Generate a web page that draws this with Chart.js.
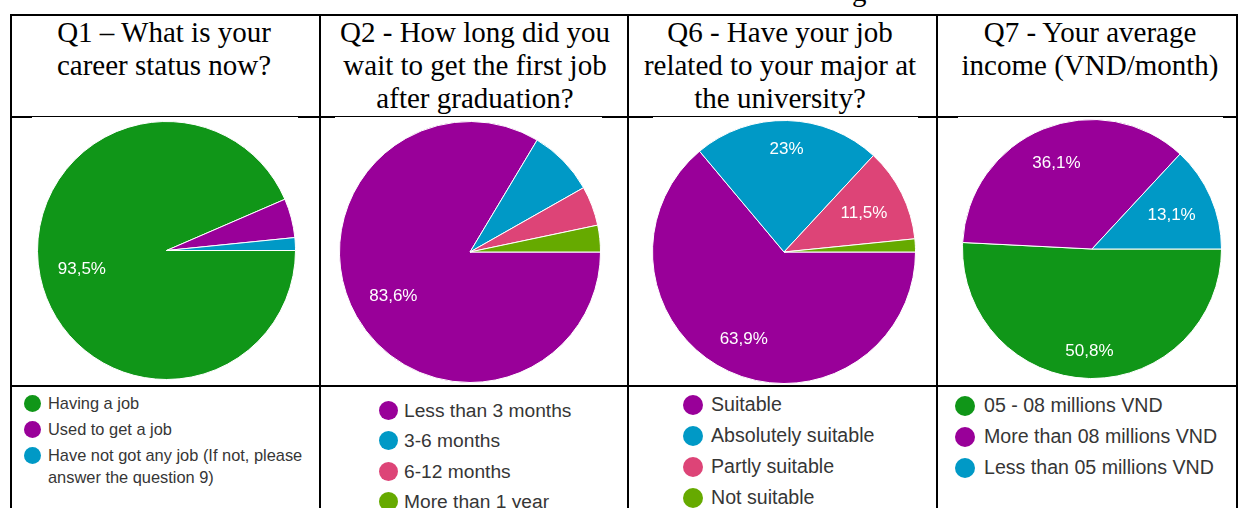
<!DOCTYPE html>
<html>
<head>
<meta charset="utf-8">
<title>Survey results</title>
<script src="https://cdn.jsdelivr.net/npm/chart.js@4.4.1/dist/chart.umd.min.js"></script>
<style>
  html, body { margin: 0; padding: 0; background: #fff; }
  #page { position: relative; width: 1239px; height: 508px; overflow: hidden; background: #fff; }
  .rule { position: absolute; background: #000; }
  .plate { position: absolute; background: #fff; }
  .t { position: absolute; white-space: nowrap; }
  .hd { font-family: "Liberation Serif", "Times New Roman", serif; font-size: 29px; line-height: 29px; color: #000; }
  .lg { font-family: "Liberation Sans", Arial, sans-serif; color: #363636; }
  .dot { position: absolute; border-radius: 50%; }
  canvas { position: absolute; }
</style>
</head>
<body>
<div id="page"></div>
<script>
// ---- survey data ----
const q1Title = ["Q1 \u2013 What is your", "career status now?"];
const q1Labels = ["Having a job", "Used to get a job", "Have not got any job (If not, please answer the question 9)"];
const q1Values = [93.5, 4.9, 1.6];

const q2Title = ["Q2 - How long did you", "wait to get the first job", "after graduation?"];
const q2Labels = ["Less than 3 months", "3-6 months", "6-12 months", "More than 1 year"];
const q2Values = [83.6, 8.2, 4.9, 3.3];

const q6Title = ["Q6 - Have your job", "related to your major at", "the university?"];
const q6Labels = ["Suitable", "Absolutely suitable", "Partly suitable", "Not suitable"];
const q6Values = [63.9, 23, 11.5, 1.6];

const q7Title = ["Q7 - Your average", "income (VND/month)"];
const q7Labels = ["05 - 08 millions VND", "More than 08 millions VND", "Less than 05 millions VND"];
const q7Values = [50.8, 36.1, 13.1];

// slice colours
const GREEN = "#109618", PURPLE = "#990099", BLUE = "#0099c6", PINK = "#dd4477", LIME = "#66aa00";
const q1Colors = [GREEN, PURPLE, BLUE];
const q2Colors = [PURPLE, BLUE, PINK, LIME];
const q6Colors = [PURPLE, BLUE, PINK, LIME];
const q7Colors = [GREEN, PURPLE, BLUE];

const page = document.getElementById("page");

function el(cls, css, text) {
  const d = document.createElement("div");
  d.className = cls;
  Object.assign(d.style, css);
  if (text !== undefined) d.textContent = text;
  page.appendChild(d);
  return d;
}

// ---- table grid ----
const colX = [10, 319, 627, 936, 1236];
[14, 116, 385].forEach(y => el("rule", { left: "10px", top: y + "px", width: "1228px", height: "2px" }));
colX.forEach(x => el("rule", { left: x + "px", top: "14px", width: "2px", height: "500px" }));

// white chart plates sitting on the lower edge of the header rule
[[32, 298], [335, 602], [653, 918], [958, 1223]].forEach(([a, b]) =>
  el("plate", { left: a + "px", top: "117px", width: (b - a) + "px", height: "267px" }));

// tail of the caption line above the table
el("t hd", { left: "852px", top: (1 - 0.8375 * 29) + "px" }, "g");

// ---- header cells (serif, centred lines) ----
function header(lines, cx) {
  const base = [42, 75, 108];
  lines.forEach((s, i) => {
    el("t hd", { top: (base[i] - 0.8375 * 29) + "px", left: cx + "px", transform: "translateX(-50%)" }, s);
  });
}
header(q1Title, 164);
header(q2Title, 475);
header(q6Title, 780);
header(q7Title, 1090);

// ---- pie charts ----
const sliceLabels = {
  id: "sliceLabels",
  afterDatasetsDraw(chart) {
    const ctx = chart.ctx;
    const meta = chart.getDatasetMeta(0);
    const vals = chart.data.datasets[0].data;
    const fs = 17;
    ctx.save();
    ctx.font = fs + 'px "Liberation Sans", Arial, sans-serif';
    ctx.fillStyle = "#ffffff";
    ctx.textAlign = "center";
    ctx.textBaseline = "alphabetic";
    meta.data.forEach((arc, i) => {
      if (vals[i] < 10) return;
      const p = arc.getProps(["x", "y", "startAngle", "endAngle", "outerRadius"], true);
      const mid = (p.startAngle + p.endAngle) / 2;
      const ux = Math.cos(mid), uy = Math.sin(mid);
      const text = String(vals[i]).replace(".", ",") + "%";
      const w = ctx.measureText(text).width, h = 15;
      // push the label box outward until its far corner reaches R0
      const R0 = p.outerRadius * 0.865;
      const a = Math.sign(ux) * w / 2, b = Math.sign(uy) * h / 2;
      const B = ux * a + uy * b;
      const t = -B + Math.sqrt(B * B - (a * a + b * b - R0 * R0));
      ctx.fillText(text, p.x + ux * t, p.y + uy * t + 0.358 * fs);
    });
    ctx.restore();
  }
};

function pie(labels, values, colors, cx, cy, r) {
  const pad = 3;
  const size = Math.round(2 * (r + pad));
  const cv = document.createElement("canvas");
  cv.width = size; cv.height = size;
  Object.assign(cv.style, { left: (cx - size / 2) + "px", top: (cy - size / 2) + "px", width: size + "px", height: size + "px" });
  page.appendChild(cv);
  new Chart(cv, {
    type: "pie",
    data: { labels: labels, datasets: [{ data: values, backgroundColor: colors, borderColor: "#ffffff", borderWidth: 1 }] },
    options: {
      responsive: false,
      animation: false,
      rotation: 90,
      layout: { padding: pad },
      events: [],
      plugins: { legend: { display: false }, tooltip: { enabled: false } }
    },
    plugins: [sliceLabels]
  });
}
pie(q1Labels, q1Values, q1Colors, 166, 250, 129.5);
pie(q2Labels, q2Values, q2Colors, 469.5, 252, 131);
pie(q6Labels, q6Values, q6Colors, 784, 252, 132);
pie(q7Labels, q7Values, q7Colors, 1092, 249, 130);

// ---- legends ----
function legend(labels, colors, o) {
  labels.forEach((s, i) => {
    const cy = o.rows[i];
    el("dot", { left: (o.dotX - o.d / 2) + "px", top: (cy - o.d / 2) + "px", width: o.d + "px", height: o.d + "px", background: colors[i] });
    const base = cy + o.fs * 0.36;
    const css = { left: o.textX + "px", top: (base - 0.8465 * o.fs) + "px", fontSize: o.fs + "px", lineHeight: o.fs + "px" };
    if (o.wrap) { css.whiteSpace = "normal"; css.width = o.wrap + "px"; css.lineHeight = o.lh + "px"; css.top = (base - 0.8465 * o.fs - (o.lh - o.fs) / 2) + "px"; }
    el("t lg", css, s);
  });
}
legend(q1Labels, q1Colors, { dotX: 32, d: 17, textX: 48, fs: 16.4, rows: [403, 429, 455], wrap: 262, lh: 22 });
legend(q2Labels, q2Colors, { dotX: 388, d: 19, textX: 404, fs: 19.2, rows: [410, 440, 471, 501] });
legend(q6Labels, q6Colors, { dotX: 693, d: 20, textX: 711, fs: 19.6, rows: [405, 436, 467, 498] });
legend(q7Labels, q7Colors, { dotX: 965, d: 20, textX: 984, fs: 19.6, rows: [406, 437, 468] });
</script>
</body>
</html>
